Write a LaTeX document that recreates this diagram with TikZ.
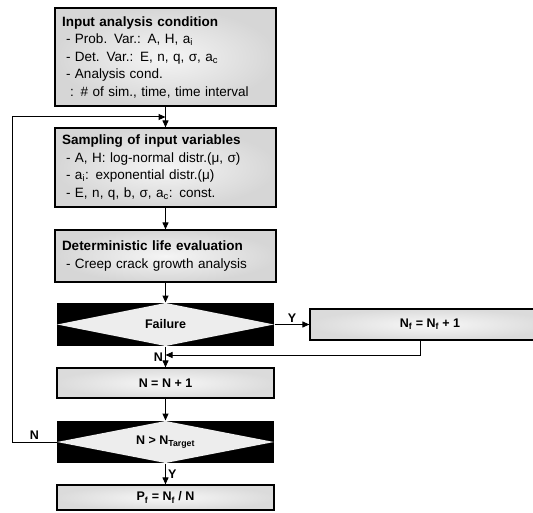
\documentclass[tikz,border=0pt]{standalone}
\usepackage{fontspec}
\setmainfont{Liberation Sans}
\usetikzlibrary{arrows.meta}

\newcommand{\lowr}[1]{\textsubscript{#1}}

\tikzset{
  box/.style={draw, line width=1.2pt, inner color=black!4, outer color=black!16,
    minimum width=221pt, text width=207pt, inner xsep=7pt, align=left,
    font=\fontsize{13.5}{17.5}\selectfont},
  calc/.style={draw, line width=1.2pt, inner color=black!3, outer color=black!14,
    minimum width=217pt, align=center, font=\fontsize{12.5}{14}\selectfont\bfseries},
  ask/.style={fill=black, minimum width=217pt, minimum height=43pt,
    font=\fontsize{12.5}{14}\selectfont\bfseries,
    path picture={\fill[black!7] (path picture bounding box.west)
      -- (path picture bounding box.north) -- (path picture bounding box.east)
      -- (path picture bounding box.south) -- cycle;}},
  lbl/.style={font=\fontsize{12.5}{14}\selectfont\bfseries, inner sep=2pt}
}

\begin{document}
\begin{tikzpicture}[x=1pt,y=-1pt,>={Triangle[length=7pt,width=6pt]},line width=1pt]
    \useasboundingbox (0,0) rectangle (533,513);
    \clip (0,0) rectangle (533,513);

    % main column
    \node[box, minimum height=98pt] (inp) at (165.5,57) {%
      \textbf{Input analysis condition}\\
      \hspace*{4pt}- Prob. Var.: A, H, a\lowr{i}\\
      \hspace*{4pt}- Det. Var.: E, n, q, σ, a\lowr{c}\\
      \hspace*{4pt}- Analysis cond.\\
      \hspace*{8pt}: \# of sim., time, time interval};
    \node[box, minimum height=79pt] (smp) at (165.5,167.5) {%
      \textbf{Sampling of input variables}\\
      \hspace*{4pt}- A, H: log-normal distr.(μ, σ)\\
      \hspace*{4pt}- a\lowr{i}: exponential distr.(μ)\\
      \hspace*{4pt}- E, n, q, b, σ, a\lowr{c}: const.};
    \node[box, minimum height=52pt] (evl) at (165.5,256) {%
      \textbf{Deterministic life evaluation}\\
      \hspace*{4pt}- Creep crack growth analysis};
    \node[ask] (fail) at (165.5,324.5) {Failure};
    \node[calc, minimum width=240pt, minimum height=31pt] (nf) at (430,324.5)
      {N\lowr{f} = N\lowr{f} + 1};
    \node[calc, minimum height=30pt] (inc) at (165.5,383) {N = N + 1};
    \node[ask, minimum height=42pt] (tgt) at (165.5,442) {N > N\lowr{Target}};
    \node[calc, minimum height=25pt] (pf) at (165.5,497.5) {P\lowr{f} = N\lowr{f} / N};

    \coordinate (back) at (inp.south |- 0,117);
    \coordinate (mrg) at (165.5,355);

    % connectors
    \draw[->] (inp.south) -- (smp.north);
    \draw[->] (smp.south) -- (evl.north);
    \draw[->] (evl.south) -- (fail.north);
    \draw[->] (fail.east) -- node[lbl, above] {Y} (nf.west);
    \draw[->] ([xshift=-10pt]nf.south) |- (mrg);
    \draw[->] (fail.south) -- node[lbl, left] {N} (inc.north);
    \draw[->] (inc.south) -- (tgt.north);
    \draw[->] (tgt.south) -- node[lbl, right] {Y} (pf.north);
    \draw[->] (tgt.west) -- node[lbl, above] {N} ++(-44,0) |- (back);
\end{tikzpicture}
\end{document}
